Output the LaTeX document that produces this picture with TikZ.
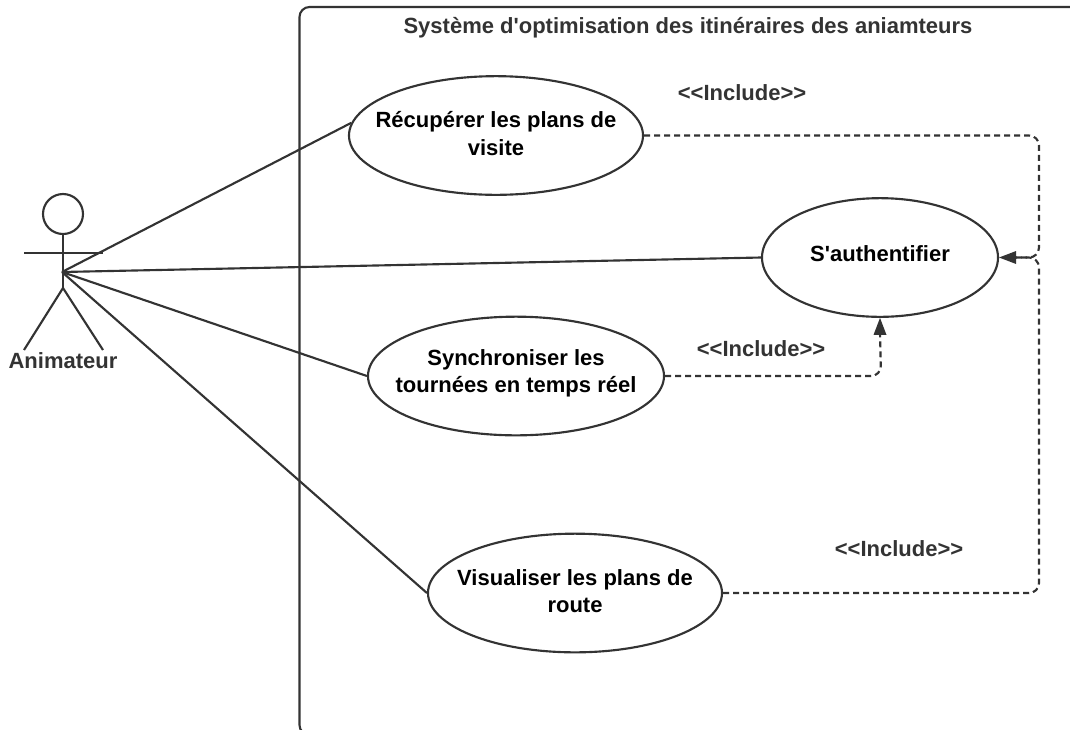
\documentclass[tikz,border=0pt]{standalone}
\usepackage{fontspec}
\setmainfont{Liberation Sans}
\usetikzlibrary{shapes.geometric,arrows.meta}
\definecolor{ln}{HTML}{333333}
\tikzset{
  x=0.75pt,y=-0.75pt,
  usecase/.style={draw=ln,line width=1.6pt,ellipse,inner sep=0pt,minimum width=220.5pt,minimum height=89pt},
  casetext/.style={text=black,font=\bfseries\fontsize{16.5}{20.5}\selectfont,align=center,inner sep=0pt},
  lab/.style={text=ln,font=\bfseries\fontsize{16.5}{20}\selectfont,inner sep=0pt},
  solidline/.style={draw=ln,line width=1.6pt},
  incl/.style={draw=ln,line width=1.6pt,dash pattern=on 4.5pt off 3pt,rounded corners=7.5pt}
}
\begin{document}
\begin{tikzpicture}
\useasboundingbox (0,0) rectangle (1070,729);
\begin{scope}
\clip (0,0) rectangle (1070,729);
\draw[solidline,rounded corners=7.5pt] (1085,7) -- (299.5,7) -- (299.5,735) -- (320,735);
\end{scope}
\node[lab] (title) at (688,27.5) {Système d\textquotesingle optimisation des itinéraires des aniamteurs};
\node[usecase,label={[casetext,yshift=1.5pt]center:{Récupérer les plans de\\visite}}] (rec) at (496,135.5) {};
\node[usecase,minimum width=177pt,label={[casetext,yshift=3pt]center:{S\textquotesingle authentifier}}] (auth) at (880,257.5) {};
\node[usecase,minimum width=222pt,label={[casetext,yshift=2pt]center:{Synchroniser les\\tournées en temps réel}}] (syn) at (516,376) {};
\node[usecase,label={[casetext,yshift=1.5pt]center:{Visualiser les plans de\\route}}] (vis) at (575,593) {};
\node[lab] (i1) at (742,93) {<{}<Include>{}>};
\node[lab] (i2) at (761,349) {<{}<Include>{}>};
\node[lab] (i3) at (899,549) {<{}<Include>{}>};
% actor
\node[draw=ln,line width=1.6pt,circle,minimum size=30pt,inner sep=0pt] (head) at (63,214) {};
\coordinate (hub) at (62,272);
\coordinate (hip) at (63,288);
\coordinate (armL) at (24,253);
\coordinate (armR) at (103,253);
\coordinate (legL) at (24,350);
\coordinate (legR) at (103,350);
\draw[solidline] (head.south) -- (hip);
\draw[solidline] (armL) -- (armR);
\draw[solidline] (legL) -- (hip) -- (legR);
\node[lab] (actor) at (63,361) {Animateur};
\draw[solidline] (hub) -- (rec.175.5);
\draw[solidline] (hub) -- (auth.west);
\draw[solidline] (hub) -- (syn.west);
\draw[solidline] (hub) -- (vis.west);
% includes
\coordinate (bendA) at (1039,135.5);
\coordinate (bendB) at (1039,593);
\coordinate (bendC) at (881,376);
\coordinate (meet) at (1039,257.5);
\coordinate (tipA) at (1013,257.5);
\coordinate (tipB) at (880,333);
\draw[incl] (rec.east) -- (bendA) -- (meet) -- (tipA);
\draw[incl] (vis.east) -- (bendB) -- (meet) -- (tipA);
\fill[ln] (auth.east) -- ++(17,-6.5) -- ++(0,13) -- cycle;
\draw[incl] (syn.east) -- (bendC) -- (tipB);
\fill[ln] (auth.south) -- ++(-6.5,17) -- ++(13,0) -- cycle;
\end{tikzpicture}
\end{document}
